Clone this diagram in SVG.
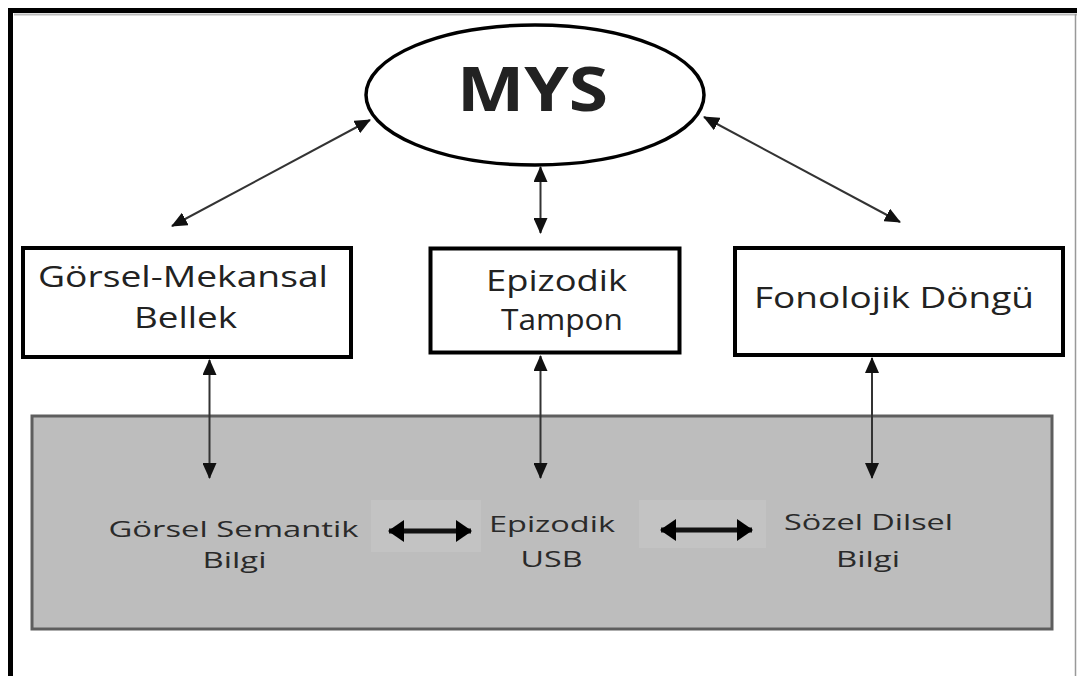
<svg xmlns="http://www.w3.org/2000/svg" width="1077" height="676" viewBox="0 0 1077 676">
<defs>
<marker id="ah" markerUnits="userSpaceOnUse" markerWidth="16" markerHeight="14" refX="15" refY="7" orient="auto-start-reverse" viewBox="0 0 16 14">
<path d="M0,0 L16,7 L0,14 z" fill="#111"/>
</marker>
<marker id="ahb" markerUnits="userSpaceOnUse" markerWidth="16" markerHeight="22" refX="15" refY="11" orient="auto-start-reverse" viewBox="0 0 16 22">
<path d="M0,0 L16,11 L0,22 z" fill="#000"/>
</marker>
<style>
.box{fill:#fff;stroke:#000;stroke-width:4}
.t{font-family:"Open Sans","Liberation Sans",sans-serif;fill:#222;text-anchor:middle}
.big{font-size:30px}
.sm{font-size:22px;fill:#2a2a2a}
.c{stroke:#333;stroke-width:2;fill:none;marker-start:url(#ah);marker-end:url(#ah)}
.cb{stroke:#111;stroke-width:5;fill:none;marker-start:url(#ahb);marker-end:url(#ahb)}
</style>
</defs>
<rect x="0" y="0" width="1077" height="676" fill="#fff"/>
<g id="frame">
<line x1="8" y1="10.5" x2="1077" y2="10.5" stroke="#000" stroke-width="5"/>
<line x1="10.5" y1="8" x2="10.5" y2="676" stroke="#000" stroke-width="5"/>
<line x1="14" y1="14.5" x2="1077" y2="14.5" stroke="#bbb" stroke-width="2"/>
<line x1="1075.5" y1="14" x2="1075.5" y2="676" stroke="#999" stroke-width="1.5"/>
</g>
<g id="ltm">
<rect x="32" y="416" width="1020" height="213" fill="#bdbdbd" stroke="#5e5e5e" stroke-width="3"/>
<rect x="371" y="500" width="110" height="52" fill="#c3c3c3"/>
<rect x="639" y="500" width="127" height="48" fill="#c3c3c3"/>
<text class="t sm" x="233.5" y="537" textLength="250" lengthAdjust="spacingAndGlyphs">Görsel Semantik</text>
<text class="t sm" x="234.5" y="568" textLength="64" lengthAdjust="spacingAndGlyphs">Bilgi</text>
<text class="t sm" x="552" y="532" textLength="126" lengthAdjust="spacingAndGlyphs">Epizodik</text>
<text class="t sm" x="551.5" y="567" textLength="62" lengthAdjust="spacingAndGlyphs">USB</text>
<text class="t sm" x="868.5" y="530" textLength="169" lengthAdjust="spacingAndGlyphs">Sözel Dilsel</text>
<text class="t sm" x="868" y="567" textLength="64" lengthAdjust="spacingAndGlyphs">Bilgi</text>
</g>
<g id="mys">
<ellipse cx="535" cy="95" rx="169" ry="70" fill="#fff" stroke="#000" stroke-width="3.5"/>
<text class="t" x="532.5" y="111" font-size="60" font-weight="bold" fill="#111" textLength="151" lengthAdjust="spacingAndGlyphs">MYS</text>
</g>
<g id="gorsel-mekansal">
<rect class="box" x="23" y="248" width="328" height="109"/>
<text class="t big" x="183" y="287" textLength="290" lengthAdjust="spacingAndGlyphs">Görsel-Mekansal</text>
<text class="t big" x="185.5" y="328" textLength="103" lengthAdjust="spacingAndGlyphs">Bellek</text>
</g>
<g id="epizodik-tampon">
<rect class="box" x="430.5" y="248.5" width="249" height="104"/>
<text class="t big" x="556.5" y="291" textLength="141" lengthAdjust="spacingAndGlyphs">Epizodik</text>
<text class="t big" x="562" y="330" textLength="122" lengthAdjust="spacingAndGlyphs">Tampon</text>
</g>
<g id="fonolojik-dongu">
<rect class="box" x="735" y="248" width="328" height="107"/>
<text class="t big" x="894" y="308" textLength="280" lengthAdjust="spacingAndGlyphs">Fonolojik Döngü</text>
</g>
<g id="connectors">
<line class="c" x1="370" y1="120" x2="172" y2="226"/>
<line class="c" x1="704" y1="117" x2="900" y2="222"/>
<line class="c" x1="540.5" y1="167" x2="540.5" y2="233"/>
<line class="c" x1="209.5" y1="360" x2="209.5" y2="478"/>
<line class="c" x1="540.5" y1="356" x2="540.5" y2="478"/>
<line class="c" x1="872" y1="358" x2="872" y2="478"/>
<line class="cb" x1="389" y1="531" x2="471" y2="531"/>
<line class="cb" x1="661" y1="530" x2="752" y2="530"/>
</g>
</svg>
